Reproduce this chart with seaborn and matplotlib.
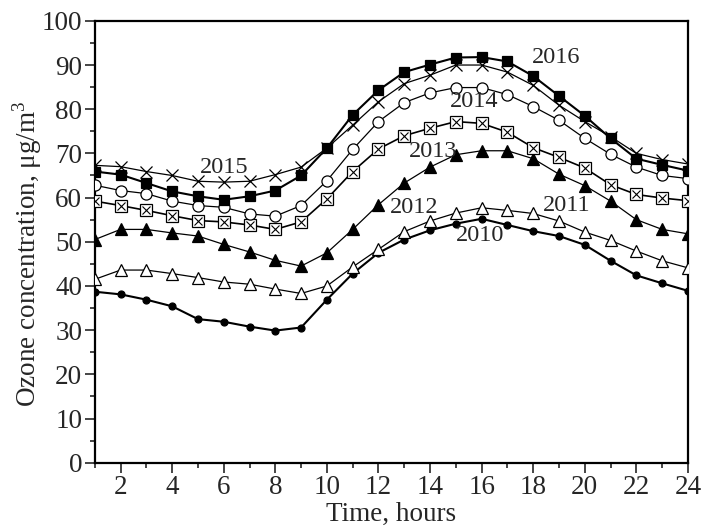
import numpy as np
import pandas as pd
import matplotlib
matplotlib.use("Agg")
import matplotlib.pyplot as plt
import seaborn as sns
from matplotlib.ticker import MultipleLocator

# hourly mean ozone
hours = list(range(1, 25))
o3_2010 = [38.7, 38.1, 36.9, 35.4, 32.5, 31.9, 30.8, 29.9, 30.6, 36.9, 42.8, 47.5,
           50.5, 52.6, 54.1, 55.2, 53.8, 52.4, 51.3, 49.3, 45.7, 42.4, 40.6, 38.9]
o3_2011 = [41.5, 43.6, 43.6, 42.8, 41.9, 40.9, 40.4, 39.3, 38.3, 40.0, 44.3, 48.3,
           52.3, 54.7, 56.5, 57.7, 57.1, 56.4, 54.7, 52.2, 50.3, 47.9, 45.7, 44.1]
o3_2012 = [50.5, 52.8, 52.8, 52.0, 51.3, 49.4, 47.7, 45.8, 44.5, 47.5, 52.8, 58.4,
           63.3, 66.9, 69.7, 70.6, 70.6, 68.8, 65.3, 62.7, 59.2, 55.0, 52.8, 51.8]
o3_2013 = [59.2, 58.2, 57.1, 55.9, 54.8, 54.5, 53.8, 52.8, 54.5, 59.7, 65.9, 71.0,
           74.0, 75.7, 77.2, 76.8, 74.8, 71.3, 69.1, 66.7, 62.9, 60.7, 59.9, 59.3]
o3_2014 = [62.8, 61.6, 60.9, 59.2, 58.2, 57.8, 56.3, 55.8, 58.2, 63.8, 70.9, 77.2,
           81.5, 83.7, 84.9, 84.9, 83.3, 80.6, 77.5, 73.4, 69.8, 66.9, 65.0, 64.3]
o3_2015 = [67.3, 67.0, 65.9, 65.0, 63.7, 63.5, 63.7, 65.2, 66.9, 71.2, 76.4, 81.7,
           85.8, 87.7, 90.0, 90.0, 88.4, 85.4, 80.9, 77.2, 73.8, 70.0, 68.6, 67.6]
o3_2016 = [65.9, 65.2, 63.3, 61.4, 60.3, 59.5, 60.3, 61.6, 65.0, 71.2, 78.7, 84.3,
           88.4, 90.1, 91.7, 91.8, 90.8, 87.5, 83.0, 78.5, 73.4, 68.8, 67.4, 66.1]

years = ["2010", "2011", "2012", "2013", "2014", "2015", "2016"]
label_x = [15.95, 19.3, 13.4, 14.1, 15.7, 6.0, 18.9]
label_y = [51.5, 58.2, 57.8, 70.4, 81.7, 66.8, 91.8]

df = pd.DataFrame({"hour": hours, "2010": o3_2010, "2011": o3_2011, "2012": o3_2012,
                   "2013": o3_2013, "2014": o3_2014, "2015": o3_2015, "2016": o3_2016})

sns.set_style("ticks")
plt.rcParams["font.family"] = ["Liberation Serif", "DejaVu Serif"]
plt.rcParams["mathtext.fontset"] = "custom"
plt.rcParams["mathtext.rm"] = "Liberation Serif"

fig = plt.figure(figsize=(7.02, 5.29), dpi=100)
ax = fig.add_axes([0.135, 0.1253, 0.845, 0.8353])

# marker style per year: marker, size, face, line width
styles = {
    "2010": ("o", 5, "black", 1.5),
    "2011": ("^", 9, "white", 0.9),
    "2012": ("^", 9, "black", 0.9),
    "2013": ("s", 8, "white", 1.2),
    "2014": ("o", 8, "white", 0.9),
    "2015": ("x", 9, "none", 0.9),
    "2016": ("s", 7.5, "black", 1.5),
}

for yr in years:
    mk, ms, fc, lw = styles[yr]
    sns.lineplot(data=df, x="hour", y=yr, ax=ax, color="black", lw=lw, marker=mk,
                 markersize=ms, markerfacecolor=fc, markeredgecolor="black",
                 markeredgewidth=0.9, zorder=3)

# crossed squares for 2013
sns.lineplot(data=df, x="hour", y="2013", ax=ax, color="black", linestyle="none",
             marker="x", markersize=5.5, markeredgecolor="black",
             markeredgewidth=0.8, zorder=4)

for yr, tx, ty in zip(years, label_x, label_y):
    ax.text(tx, ty, yr, fontsize=17.5, ha="center", va="center", zorder=5)

ax.set_xlim(1, 24)
ax.set_ylim(0, 100)
ax.xaxis.set_major_locator(MultipleLocator(2))
ax.xaxis.set_minor_locator(MultipleLocator(1))
ax.yaxis.set_major_locator(MultipleLocator(10))
ax.yaxis.set_minor_locator(MultipleLocator(5))
ax.tick_params(axis="both", which="major", labelsize=19.5, width=1.2, length=7,
               direction="out", pad=2)
ax.tick_params(axis="both", which="minor", width=1.2, length=3.5, direction="out")

ax.set_xlabel("Time, hours", fontsize=19.5, labelpad=1)
ax.set_ylabel("Ozone concentration, μg/m$^3$", fontsize=19.5)
ax.yaxis.set_label_coords(-0.085, 0.472)

for sp in ax.spines.values():
    sp.set_linewidth(1.6)
    sp.set_color("black")

fig.savefig("out.png", dpi=100, facecolor="white")
